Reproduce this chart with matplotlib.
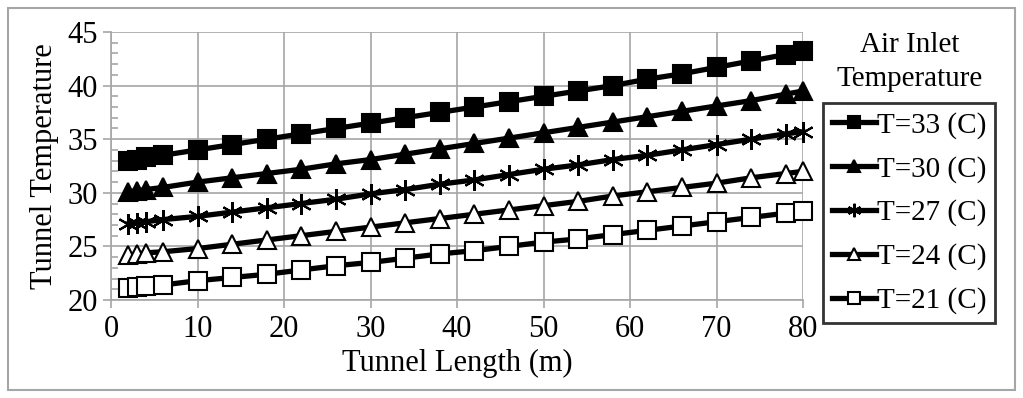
import matplotlib
matplotlib.use("Agg")
import matplotlib.pyplot as plt
from matplotlib.patches import Rectangle
from matplotlib.ticker import MultipleLocator

plt.rcParams["font.family"] = ["Liberation Serif", "DejaVu Serif"]

# tunnel positions (m)
length = [2, 3, 4, 6, 10, 14, 18, 22, 26, 30, 34, 38, 42, 46, 50, 54, 58, 62, 66, 70, 74, 78, 80]

t33 = [33.0, 33.1, 33.3, 33.5, 34.0, 34.5, 35.0, 35.5, 36.0, 36.5, 37.0, 37.5,
       38.0, 38.5, 39.0, 39.5, 40.0, 40.6, 41.1, 41.7, 42.3, 42.9, 43.2]
t30 = [30.1, 30.2, 30.3, 30.5, 31.0, 31.4, 31.8, 32.2, 32.7, 33.1, 33.6, 34.1,
       34.6, 35.1, 35.6, 36.1, 36.6, 37.1, 37.6, 38.1, 38.6, 39.2, 39.5]
t27 = [27.1, 27.2, 27.3, 27.5, 27.8, 28.2, 28.6, 29.0, 29.4, 29.9, 30.3, 30.8,
       31.2, 31.7, 32.2, 32.6, 33.1, 33.5, 34.0, 34.5, 35.0, 35.5, 35.7]
t24 = [24.2, 24.3, 24.4, 24.5, 24.8, 25.2, 25.6, 26.0, 26.4, 26.8, 27.2, 27.6,
       28.0, 28.4, 28.8, 29.2, 29.7, 30.1, 30.5, 30.9, 31.4, 31.8, 32.0]
t21 = [21.1, 21.2, 21.3, 21.4, 21.8, 22.1, 22.4, 22.8, 23.2, 23.5, 23.9, 24.3,
       24.6, 25.0, 25.4, 25.7, 26.1, 26.5, 26.9, 27.3, 27.7, 28.1, 28.3]

SERIES = [("T=33 (C)", t33, "s", "black"),
          ("T=30 (C)", t30, "^", "black"),
          ("T=27 (C)", t27, (6, 2, 0), "black"),
          ("T=24 (C)", t24, "^", "white"),
          ("T=21 (C)", t21, "s", "white")]

fig = plt.figure(figsize=(10.23, 3.98), dpi=100)
ax = fig.add_axes([111 / 1023, 1 - 300 / 398, (803 - 111) / 1023, (300 - 32) / 398])

for label, ys, mk, fc in SERIES:
    ms = 13 if mk != (6, 2, 0) else 15
    ax.plot(length, ys, color="black", lw=3.8, marker=mk, ms=ms,
            mfc=fc, mec="black", mew=1.5, label=label, clip_on=False)

ax.set_xlim(0, 80)
ax.set_ylim(20, 45)
ax.xaxis.set_major_locator(MultipleLocator(10))
ax.yaxis.set_major_locator(MultipleLocator(5))
ax.yaxis.set_minor_locator(MultipleLocator(1))
ax.grid(True, which="major", color="#a6a6a6", lw=1.2)
ax.set_axisbelow(True)
for s in ["top", "right"]:
    ax.spines[s].set_visible(False)
for s in ["left", "bottom"]:
    ax.spines[s].set_color("#a6a6a6")
    ax.spines[s].set_linewidth(1.2)
ax.tick_params(which="major", direction="out", length=6, color="#a6a6a6",
               labelsize=22, width=1.2)
ax.tick_params(axis="x", which="major", pad=5)
ax.tick_params(axis="y", which="minor", direction="in", length=5,
               color="#a6a6a6", width=1.2)
ax.set_xlabel("Tunnel Length (m)", fontsize=22, labelpad=3)
ax.set_ylabel("Tunnel Temperature", fontsize=22, labelpad=6)

leg = ax.legend(loc="upper left", bbox_to_anchor=(823 / 1023, 1 - 103 / 398),
                bbox_transform=fig.transFigure, fontsize=21, frameon=True,
                fancybox=False, edgecolor="black", handlelength=1.5,
                handletextpad=0.05, labelspacing=0.58, borderpad=0.3,
                borderaxespad=0, markerscale=0.65)
leg.get_frame().set_linewidth(2)

fig.text(910 / 1023, 1 - 62 / 398, "Air Inlet\nTemperature", ha="center",
         va="center", fontsize=21, linespacing=1.35)

fig.patches.append(Rectangle((8 / 1023, 8 / 398), 1007 / 1023, 382 / 398,
                             transform=fig.transFigure, fill=False,
                             edgecolor="#a6a6a6", lw=1.5))

fig.savefig("out.png", dpi=100)
